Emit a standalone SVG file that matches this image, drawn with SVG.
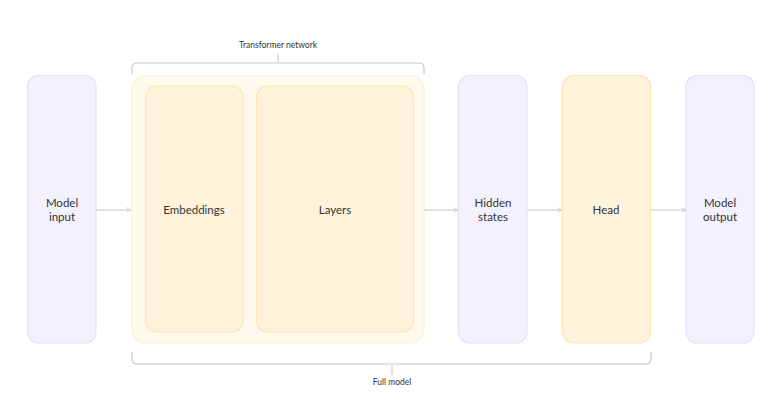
<svg xmlns="http://www.w3.org/2000/svg" width="779" height="401" viewBox="0 0 779 401">
<defs>
<style>
.p{fill:#f4f1fe;stroke:#e2e1fb;stroke-width:1.2}
.y{fill:#fff3dc;stroke:#fde5b9;stroke-width:1.2}
.o{fill:#fffaeb;stroke:#fdf0d2;stroke-width:1.2}
.t{font-family:"Source Sans Pro","Lato","Noto Sans",sans-serif;font-size:11.5px;fill:#333;text-anchor:middle}
.s{font-family:"Source Sans Pro","Lato","Noto Sans",sans-serif;font-size:8.5px;fill:#333;text-anchor:middle}
.c{fill:none;stroke:#c8c8c8;stroke-width:1.2}
</style>
<marker id="ah" viewBox="0 0 10 10" refX="9" refY="5" markerWidth="6" markerHeight="6" orient="auto" markerUnits="userSpaceOnUse">
<path d="M1,1 L9,5 L1,9" fill="none" stroke="#c8c8c8" stroke-width="1.3"/>
</marker>
</defs>
<rect width="779" height="401" fill="#fff"/>
<g id="model-input"><rect class="p" x="27.5" y="75.5" width="68.5" height="267.5" rx="11"/><text class="t" x="62" y="207">Model</text><text class="t" x="62" y="221">input</text></g>
<g id="transformer-network"><rect class="o" x="132" y="75.5" width="292" height="267.5" rx="14"/></g>
<g id="embeddings"><rect class="y" x="145.5" y="86" width="97.5" height="246" rx="11"/><text class="t" x="194" y="214">Embeddings</text></g>
<g id="layers"><rect class="y" x="256.5" y="86" width="157" height="246" rx="11"/><text class="t" x="335" y="214">Layers</text></g>
<g id="hidden-states"><rect class="p" x="458.5" y="75.5" width="68.5" height="267.5" rx="11"/><text class="t" x="493" y="207">Hidden</text><text class="t" x="493" y="221">states</text></g>
<g id="head"><rect class="y" x="562.5" y="75.5" width="88" height="267.5" rx="11"/><text class="t" x="606" y="214">Head</text></g>
<g id="model-output"><rect class="p" x="686" y="75.5" width="68" height="267.5" rx="11"/><text class="t" x="720" y="207">Model</text><text class="t" x="720" y="221">output</text></g>
<g id="brackets">
<path class="c" d="M132,74 V68 Q132,63 137,63 H419 Q424,63 424,68 V74"/>
<path class="c" d="M278,63 V54"/>
<text class="s" x="278" y="48">Transformer network</text>
<path class="c" d="M132,352 V359 Q132,364 137,364 H646 Q651,364 651,359 V352"/>
<path class="c" d="M392,365 V375"/>
<text class="s" x="392" y="385">Full model</text>
</g>
<g id="connectors">
<line class="c" x1="96" y1="210" x2="131" y2="210" marker-end="url(#ah)"/>
<line class="c" x1="424" y1="210" x2="458" y2="210" marker-end="url(#ah)"/>
<line class="c" x1="527" y1="210" x2="562" y2="210" marker-end="url(#ah)"/>
<line class="c" x1="651" y1="210" x2="686" y2="210" marker-end="url(#ah)"/>
</g>
</svg>
